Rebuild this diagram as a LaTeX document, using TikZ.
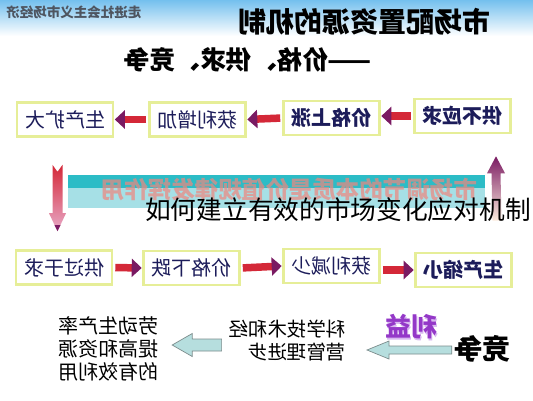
\documentclass[tikz,border=0pt]{standalone}
\usepackage{fontspec}
\usepackage{graphicx}
\newfontfamily\cjk{Noto Sans CJK SC}
\usetikzlibrary{arrows.meta,calc}
\definecolor{navy}{HTML}{1C1C5A}
\definecolor{boxedge}{HTML}{E6EE98}
\definecolor{sky}{HTML}{74C0EE}
\definecolor{arrred}{HTML}{D42838}
\definecolor{arrpurp}{HTML}{7A1A62}
\definecolor{tealdark}{HTML}{2CBCC6}
\definecolor{teallight}{HTML}{A6E0E6}
\definecolor{salmon}{HTML}{F0867E}
\definecolor{lteal}{HTML}{B6DEDE}
\definecolor{ledge}{HTML}{7C8C8C}
\definecolor{lipurp}{HTML}{9438C8}
\definecolor{lilav}{HTML}{D8B8F0}
\definecolor{greytxt}{HTML}{4E5560}
\newcommand\mir[1]{\reflectbox{#1}}
\newcommand\fs[2]{\fontsize{#1}{#2}\selectfont}
\begin{document}
\begin{tikzpicture}[x=1pt,y=-1pt,
  box/.style={draw=boxedge, line width=2.6pt, fill=white, minimum width=96pt,
    minimum height=34pt, inner sep=0pt, text=navy, font=\cjk\fs{20}{24}},
  boxb/.style={box, font=\cjk\bfseries\fs{20}{24}},
  rarrow/.style={draw=arrred, line width=7.5pt,
    -{Triangle[length=10pt,width=18pt,color=arrpurp]}, shorten <=2pt, shorten >=0.5pt},
  fatarr/.style={fill=lteal, draw=ledge, line width=0.7pt, line join=miter},
  plain/.style={inner sep=0pt, text=black}]
\useasboundingbox (0,0) rectangle (533,400);
\fill[white] (0,0) rectangle (533,400);
\shade[top color=sky, bottom color=white] (0,0) rectangle (533,36);

% header
\node[plain, text=greytxt, font=\cjk\bfseries\fs{13.5}{16}] (brand) at (74,12.5) {\mir{走进社会主义市场经济}};
\node[plain, font=\cjk\bfseries\fs{28}{32}] (title) at (364,22) {\mir{市场配置资源的机制}};
\node[plain, font=\cjk\bfseries\fs{25.5}{30}] (sub) at (248,60) {\mir{——价格、供求、竞争}};

% row 1
\node[box]  (r1a) at (65,119.5)  {\mir{生产扩大}};
\node[box]  (r1b) at (197.5,119.5) {\mir{获利增加}};
\node[boxb] (r1c) at (331.5,118) {\mir{价格上涨}};
\node[boxb] (r1d) at (462.5,116) {\mir{供不应求}};
\draw[rarrow] (r1b.west) -- (r1a.east);
\draw[rarrow] (r1c.west) -- (r1b.east);
\draw[rarrow] (r1d.west) -- (r1c.east |- r1d.west);

% row 2
\node[box]  (r2a) at (64,267.5)  {\mir{供过于求}};
\node[box]  (r2b) at (191.5,268) {\mir{价格下跌}};
\node[box]  (r2c) at (331.5,266) {\mir{获利减少}};
\node[boxb] (r2d) at (463.5,270) {\mir{生产缩小}};
\draw[rarrow] (r2a.east) -- (r2b.west);
\draw[rarrow] (r2b.east) -- (r2c.west);
\draw[rarrow] (r2c.east |- r2d.west) -- (r2d.west);

% left vertical arrow (r1a -> r2a)
\coordinate (lvs) at ($(r1a.south)+(-7.5,27)$);
\coordinate (lve) at ($(r2a.north)+(-6.5,-18)$);
\shade[top color=arrred, middle color={rgb,255:red,236;green,140;blue,160}, bottom color={rgb,255:red,232;green,170;blue,200}]
  ($(lvs)+(-5,0)$) -- ($(lvs)+(0,7)$) -- ($(lvs)+(5,0)$) -- ($(lve)+(5,-18)$) -- ($(lve)+(8.5,-18)$)
  -- (lve) -- ($(lve)+(-8.5,-18)$) -- ($(lve)+(-5,-18)$) -- cycle;
\fill[arrpurp] ($(lve)+(-3,-6)$) -- (lve) -- ($(lve)+(3,-6)$) -- cycle;

% right vertical arrow (r2d -> r1d)
\coordinate (rvs) at ($(r2d.north)+(33.5,-31)$);
\coordinate (rve) at ($(r1d.south)+(33.5,22)$);
\shade[top color=arrpurp, middle color={rgb,255:red,228;green,72;blue,48}, bottom color={rgb,255:red,252;green,236;blue,222}]
  ($(rvs)+(-4.5,0)$) -- ($(rve)+(-4.5,17)$) -- ($(rve)+(-9,17)$) -- (rve) -- ($(rve)+(9,17)$)
  -- ($(rve)+(4.5,17)$) -- ($(rvs)+(4.5,0)$) -- cycle;

% teal band with faded text
\fill[tealdark] (68,175) rectangle (485,188);
\fill[teallight] (68,188) rectangle (485,208);
\node[plain, text=salmon, opacity=0.7, font=\cjk\bfseries\fs{23.5}{26}] (band) at (289,190) {\mir{市场调节的本质是价值规律发挥作用}};

% bottom section
\node[plain, font=\cjk\bfseries\fs{28}{32}] (jz) at (482,349) {\mir{竞争}};
\node[plain, text=lilav, font=\cjk\bfseries\fs{26}{30}] (lyb) at (412.5,328.5) {\mir{利益}};
\node[plain, text=lipurp, font=\cjk\bfseries\fs{26}{30}] (ly) at (411,327) {\mir{利益}};
\node[plain, anchor=east, font=\cjk\fs{19.5}{22}] (kx) at (346,343) {\mir{\begin{tabular}{@{}l@{}}科学技术和经\\营管理进步\end{tabular}}};
\node[plain, font=\cjk\fs{20}{20.5}] (lt) at (108,351) {\mir{\begin{tabular}{@{}l@{}}劳动生产率\\提高和资源\\的有效利用\end{tabular}}};

\coordinate (a1s) at ($(jz.west)+(-2,1)$);
\coordinate (a1e) at ($(kx.east)+(21,7)$);
\draw[fatarr] ($(a1s)+(0,-4)$) -- ($(a1e)+(22,-4)$) -- ($(a1e)+(22,-9)$) -- (a1e)
  -- ($(a1e)+(22,9)$) -- ($(a1e)+(22,4)$) -- ($(a1s)+(0,4)$) -- cycle;

\coordinate (a2s) at ($(kx.west)+(-7,2)$);
\coordinate (a2e) at ($(lt.east)+(14,-6)$);
\draw[fatarr] ($(a2s)+(0,-6)$) -- ($(a2e)+(20,-6)$) -- ($(a2e)+(20,-11.5)$) -- (a2e)
  -- ($(a2e)+(20,11.5)$) -- ($(a2e)+(20,6)$) -- ($(a2s)+(0,6)$) -- cycle;

% overlay caption
\node[plain, font=\cjk\fs{25.7}{30}] (cap) at (338,210) {如何建立有效的市场变化应对机制};
\end{tikzpicture}
\end{document}
